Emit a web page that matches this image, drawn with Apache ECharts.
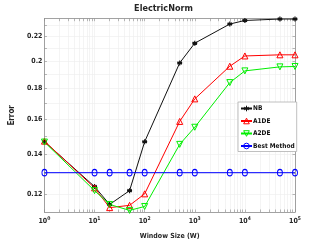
<!DOCTYPE html>
<html><head><meta charset="utf-8">
<script src="https://cdn.jsdelivr.net/npm/echarts@6/dist/echarts.min.js"></script>
<style>html,body{margin:0;padding:0;background:#fff}#c{width:327px;height:245px}</style>
</head><body><div id="c"></div>
<script>
const windowSizes = [1, 10, 20, 50, 100, 500, 1000, 5000, 10000, 50000, 100000];
const nb   = [0.1467, 0.1234, 0.1152, 0.1215, 0.1467, 0.1987, 0.2144, 0.2308, 0.2340, 0.2353, 0.2353];
const a1de = [0.1470, 0.1228, 0.1138, 0.1148, 0.1200, 0.1586, 0.1730, 0.1962, 0.2041, 0.2050, 0.2050];
const a2de = [0.1465, 0.1215, 0.1152, 0.1126, 0.1143, 0.1452, 0.1551, 0.1842, 0.1927, 0.1957, 0.1960];
const best = [0.1302, 0.1302, 0.1302, 0.1302, 0.1302, 0.1302, 0.1302, 0.1302, 0.1302, 0.1302, 0.1302];
const yTickLabels = [0.12, 0.14, 0.16, 0.18, 0.2, 0.22];
const yTicks = [0.12, 0.13, 0.14, 0.15, 0.16, 0.17, 0.18, 0.19, 0.2, 0.21, 0.22, 0.23];
const xTickLabels = [1, 10, 100, 1000, 10000, 100000];
const xTicks = [1,2,3,4,5,6,7,8,9,10,20,30,40,50,60,70,80,90,100,200,300,400,500,600,700,800,900,
  1000,2000,3000,4000,5000,6000,7000,8000,9000,10000,20000,30000,40000,50000,60000,70000,80000,90000,100000];

const FONT = "'DejaVu Sans Condensed','DejaVu Sans',sans-serif";
const pair = a => windowSizes.map((x, i) => [x, a[i]]);
const chart = echarts.init(document.getElementById('c'), null, {renderer: 'canvas'});
const axisLineGray = '#8a8a8a';
const gridGray = '#ececec';
const txt = '#262626';
const asterisk = 'path://M0,-5L0,5M-4.33,-2.5L4.33,2.5M-4.33,2.5L4.33,-2.5M-5,0L5,0';
const clear = 'rgba(255,255,255,0)';

chart.setOption({
  backgroundColor: '#fff',
  animation: false,
  title: {
    text: 'ElectricNorm', left: 'center', top: 4, padding: 0,
    textStyle: {fontFamily: FONT, fontSize: 9, fontWeight: 'bold', color: txt}
  },
  grid: {left: 42, right: 32, top: 18.7, bottom: 32},
  legend: {
    orient: 'vertical', left: 238, top: 102, width: 52,
    itemWidth: 11, itemHeight: 7, itemGap: 5.5,
    padding: [3, 2, 2, 2], symbolRotate: 'inherit',
    itemStyle: {color: clear, borderWidth: 1},
    backgroundColor: '#fff', borderColor: '#b0b0b0', borderWidth: 0.8, borderRadius: 0,
    textStyle: {fontFamily: FONT, fontSize: 6.5, fontWeight: 'bold', color: '#111', padding: [0, 0, 0, -4]},
    data: ['NB', 'A1DE', 'A2DE', 'Best Method']
  },
  xAxis: [{
    type: 'log', logBase: 10, min: 1, max: 100000,
    name: 'Window Size (W)', nameLocation: 'middle', nameGap: 21,
    nameTextStyle: {fontFamily: FONT, fontSize: 7, fontWeight: 'bold', color: txt},
    axisLine: {show: true, lineStyle: {color: axisLineGray, width: 0.8}},
    axisTick: {show: true, inside: true, length: 2.5, customValues: xTicks, lineStyle: {color: axisLineGray, width: 0.6}},
    axisLabel: {
      customValues: xTickLabels, margin: 4,
      fontFamily: FONT, fontSize: 7, fontWeight: 'bold', color: txt,
      formatter: v => '10{s|' + Math.round(Math.log10(v)) + '}',
      rich: {s: {fontFamily: FONT, fontSize: 5, fontWeight: 'bold', color: txt, padding: [0, 0, 5, 0]}}
    },
    splitLine: {show: true, lineStyle: {color: gridGray, width: 0.6}}
  }, {
    type: 'log', logBase: 10, min: 1, max: 100000, position: 'top',
    axisLine: {show: true, lineStyle: {color: axisLineGray, width: 0.8}},
    axisTick: {show: true, inside: true, length: 2.5, customValues: xTicks, lineStyle: {color: axisLineGray, width: 0.6}},
    axisLabel: {show: false},
    splitLine: {show: false}
  }],
  yAxis: [{
    type: 'log', logBase: 10, min: 0.1119, max: 0.2356,
    name: 'Error', nameLocation: 'middle', nameGap: 11, nameRotate: 90,
    nameTextStyle: {fontFamily: FONT, fontSize: 8, fontWeight: 'bold', color: txt},
    axisLine: {show: true, lineStyle: {color: axisLineGray, width: 0.8}},
    axisTick: {show: true, inside: true, length: 2.5, customValues: yTicks, lineStyle: {color: axisLineGray, width: 0.6}},
    axisLabel: {
      customValues: yTickLabels, margin: 2,
      fontFamily: FONT, fontSize: 7, fontWeight: 'bold', color: txt,
      formatter: v => String(+(+v).toFixed(2))
    },
    splitLine: {show: true, lineStyle: {color: gridGray, width: 0.6}}
  }, {
    type: 'log', logBase: 10, min: 0.1119, max: 0.2356, position: 'right',
    axisLine: {show: true, lineStyle: {color: axisLineGray, width: 0.8}},
    axisTick: {show: true, inside: true, length: 2.5, customValues: yTicks, lineStyle: {color: axisLineGray, width: 0.6}},
    axisLabel: {show: false},
    splitLine: {show: false}
  }],
  series: [
    {name: 'NB', type: 'line', data: pair(nb), symbol: asterisk, symbolSize: 5,
     lineStyle: {color: '#111', width: 1}, itemStyle: {color: '#111', borderColor: '#111', borderWidth: 1.2}},
    {name: 'A1DE', type: 'line', data: pair(a1de), symbol: 'triangle', symbolSize: 6,
     lineStyle: {color: '#ff0000', width: 1}, itemStyle: {color: clear, borderColor: '#ff0000', borderWidth: 1}},
    {name: 'A2DE', type: 'line', data: pair(a2de), symbol: 'triangle', symbolRotate: 180, symbolSize: 6,
     lineStyle: {color: '#00ee00', width: 1}, itemStyle: {color: clear, borderColor: '#00ee00', borderWidth: 1}},
    {name: 'Best Method', type: 'line', data: pair(best), symbol: 'circle', symbolSize: [5, 6.5],
     lineStyle: {color: '#0000ff', width: 1}, itemStyle: {color: clear, borderColor: '#0000ff', borderWidth: 1}}
  ]
});
</script></body></html>
